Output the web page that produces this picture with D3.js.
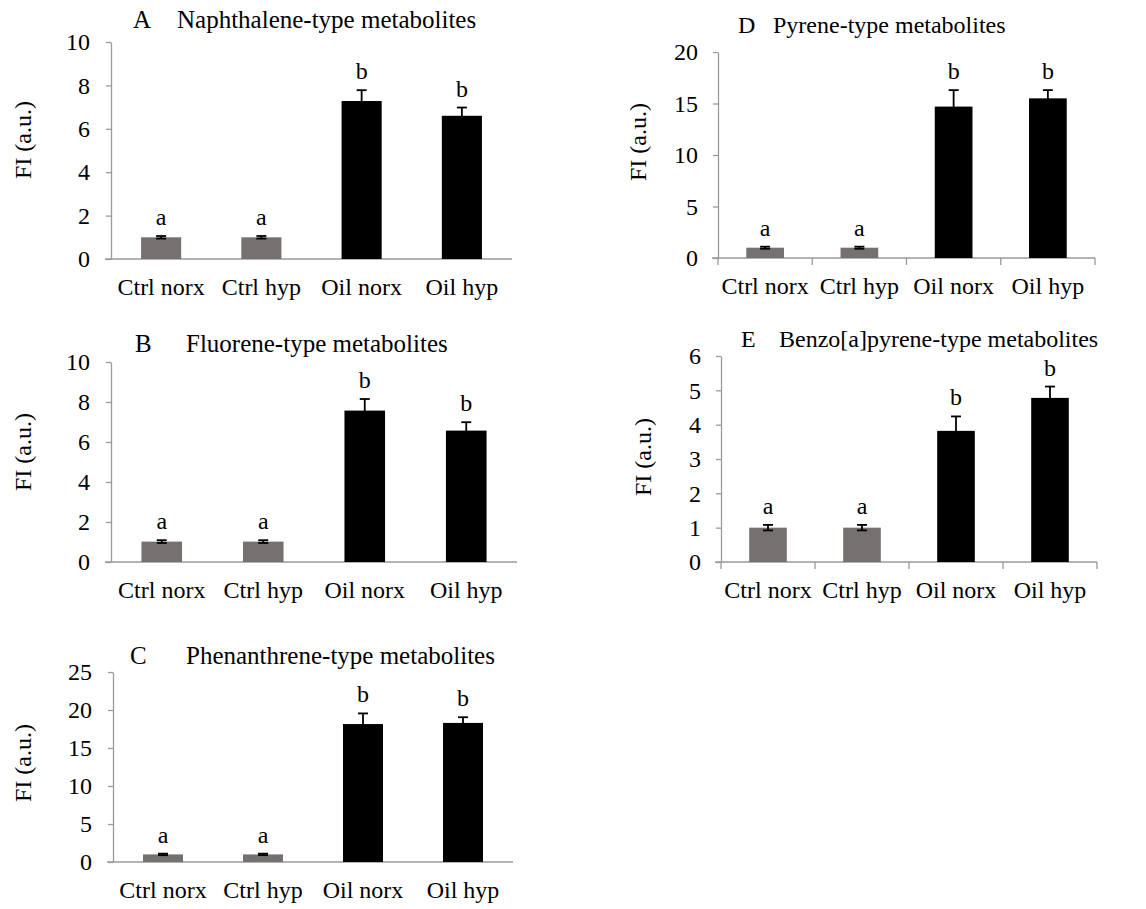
<!DOCTYPE html>
<html>
<head>
<meta charset="utf-8">
<script src="https://cdn.jsdelivr.net/npm/d3@7"></script>
<style>
  body { margin: 0; background: #fff; }
  svg { font-family: "Liberation Serif", "Times New Roman", serif; }
</style>
</head>
<body>
<div id="chart"></div>
<script>
// data
const categories = ["Ctrl norx", "Ctrl hyp", "Oil norx", "Oil hyp"];
const sigLetters = ["a", "a", "b", "b"];
const groupColors = ["#757171", "#757171", "#000000", "#000000"];

const naphMean = [1.0, 1.0, 7.28, 6.6];
const naphErr = [0.06, 0.06, 0.5, 0.38];
const fluoMean = [1.02, 1.02, 7.57, 6.57];
const fluoErr = [0.07, 0.07, 0.58, 0.42];
const phenMean = [1.0, 1.0, 18.15, 18.3];
const phenErr = [0.1, 0.1, 1.4, 0.75];
const pyrMean = [1.0, 1.0, 14.7, 15.5];
const pyrErr = [0.1, 0.1, 1.6, 0.8];
const bapMean = [1.0, 1.0, 3.82, 4.78];
const bapErr = [0.08, 0.08, 0.42, 0.33];

const yMaxes = { A: 10, B: 10, C: 25, D: 20, E: 6 };
const yTicks = {
  A: [0, 2, 4, 6, 8, 10],
  B: [0, 2, 4, 6, 8, 10],
  C: [0, 5, 10, 15, 20, 25],
  D: [0, 5, 10, 15, 20],
  E: [0, 1, 2, 3, 4, 5, 6]
};

const panels = [
  { id: "A", title: "Naphthalene-type metabolites", mean: naphMean, err: naphErr,
    x0: 111, x1: 512, y0: 42, y1: 259, lx: 133, tx: 177, ty: 28, tfs: 25, labX: 23, labY: 140, catTicks: false, pad: 16 },
  { id: "B", title: "Fluorene-type metabolites", mean: fluoMean, err: fluoErr,
    x0: 111, x1: 517, y0: 362, y1: 562, lx: 135, tx: 186, ty: 352, tfs: 25, labX: 23, labY: 452, catTicks: false, pad: 16 },
  { id: "C", title: "Phenanthrene-type metabolites", mean: phenMean, err: phenErr,
    x0: 113, x1: 513, y0: 672, y1: 862, lx: 130, tx: 186, ty: 664, tfs: 25, labX: 23, labY: 763, catTicks: false, pad: 16 },
  { id: "D", title: "Pyrene-type metabolites", mean: pyrMean, err: pyrErr,
    x0: 718, x1: 1095, y0: 52, y1: 258, lx: 738, tx: 773, ty: 33, tfs: 24, labX: 638, labY: 142, catTicks: true, pad: 15 },
  { id: "E", title: "Benzo[a]pyrene-type metabolites", mean: bapMean, err: bapErr,
    x0: 721, x1: 1097, y0: 356, y1: 562, lx: 741, tx: 779, ty: 347, tfs: 24, labX: 643, labY: 457, catTicks: true, pad: 15 }
];

const svg = d3.select("#chart").append("svg")
  .attr("width", 1146)
  .attr("height", 909);

const axisColor = "#9a9a9a";
const fontSize = 24;

panels.forEach(p => {
  const g = svg.append("g");

  const x = d3.scaleBand()
    .domain(categories)
    .range([p.x0, p.x1])
    .paddingInner(0.6)
    .paddingOuter(0.3);

  const y = d3.scaleLinear()
    .domain([0, yMaxes[p.id]])
    .range([p.y1, p.y0]);

  // y axis
  const yAxis = g.append("g")
    .attr("transform", `translate(${p.x0},0)`)
    .call(d3.axisLeft(y)
      .tickValues(yTicks[p.id])
      .tickFormat(d3.format("d"))
      .tickSize(5).tickPadding(p.pad).tickSizeOuter(0));
  yAxis.attr("font-family", null).attr("font-size", null);
  yAxis.select(".domain").attr("stroke", axisColor).attr("stroke-width", 1.3);
  yAxis.selectAll(".tick line").attr("stroke", axisColor).attr("stroke-width", 1.3);
  yAxis.selectAll(".tick text")
    .attr("font-size", fontSize)
    .attr("fill", "#000");

  // x axis line
  g.append("line")
    .attr("x1", p.x0 - 6).attr("x2", p.x1)
    .attr("y1", y(0)).attr("y2", y(0))
    .attr("stroke", axisColor).attr("stroke-width", 1.3);

  if (p.catTicks) {
    // tick marks on the band boundaries
    const edges = [x(categories[0]) - x.step() * 0.3]
      .concat(categories.map(c => x(c) + x.bandwidth() + x.step() * 0.3));
    g.selectAll(".ct").data(edges).join("line")
      .attr("x1", d => d).attr("x2", d => d)
      .attr("y1", y(0)).attr("y2", y(0) + 7)
      .attr("stroke", axisColor).attr("stroke-width", 1.3);
  }

  // category labels
  g.selectAll(".cat").data(categories).join("text")
    .attr("x", d => x(d) + x.bandwidth() / 2)
    .attr("y", y(0) + 36)
    .attr("text-anchor", "middle")
    .attr("font-size", fontSize)
    .text(d => d);

  // bars
  g.selectAll(".bar").data(categories).join("rect")
    .attr("x", d => x(d))
    .attr("width", x.bandwidth())
    .attr("y", (d, i) => y(p.mean[i]))
    .attr("height", (d, i) => y(0) - y(p.mean[i]))
    .attr("fill", (d, i) => groupColors[i]);

  // error bars
  const eb = g.selectAll(".eb").data(categories).join("g")
    .attr("stroke", "#000").attr("stroke-width", 1.8);
  eb.append("line")
    .attr("x1", d => x(d) + x.bandwidth() / 2)
    .attr("x2", d => x(d) + x.bandwidth() / 2)
    .attr("y1", (d, i) => y(p.mean[i] - p.err[i]))
    .attr("y2", (d, i) => y(p.mean[i] + p.err[i]));
  [1, -1].forEach(s => {
    eb.append("line")
      .attr("x1", d => x(d) + x.bandwidth() / 2 - 5)
      .attr("x2", d => x(d) + x.bandwidth() / 2 + 5)
      .attr("y1", (d, i) => y(p.mean[i] + s * p.err[i]))
      .attr("y2", (d, i) => y(p.mean[i] + s * p.err[i]));
  });

  // significance letters
  g.selectAll(".sig").data(categories).join("text")
    .attr("x", d => x(d) + x.bandwidth() / 2)
    .attr("y", (d, i) => y(p.mean[i] + p.err[i]) - 11)
    .attr("text-anchor", "middle")
    .attr("font-size", fontSize)
    .text((d, i) => sigLetters[i]);

  // title
  g.append("text").attr("x", p.lx).attr("y", p.ty).attr("font-size", p.tfs).text(p.id);
  g.append("text").attr("x", p.tx).attr("y", p.ty).attr("font-size", p.tfs).text(p.title);

  // y label
  g.append("text")
    .attr("transform", `translate(${p.labX + 8},${p.labY}) rotate(-90)`)
    .attr("text-anchor", "middle")
    .attr("font-size", fontSize)
    .text("FI (a.u.)");
});
</script>
</body>
</html>
